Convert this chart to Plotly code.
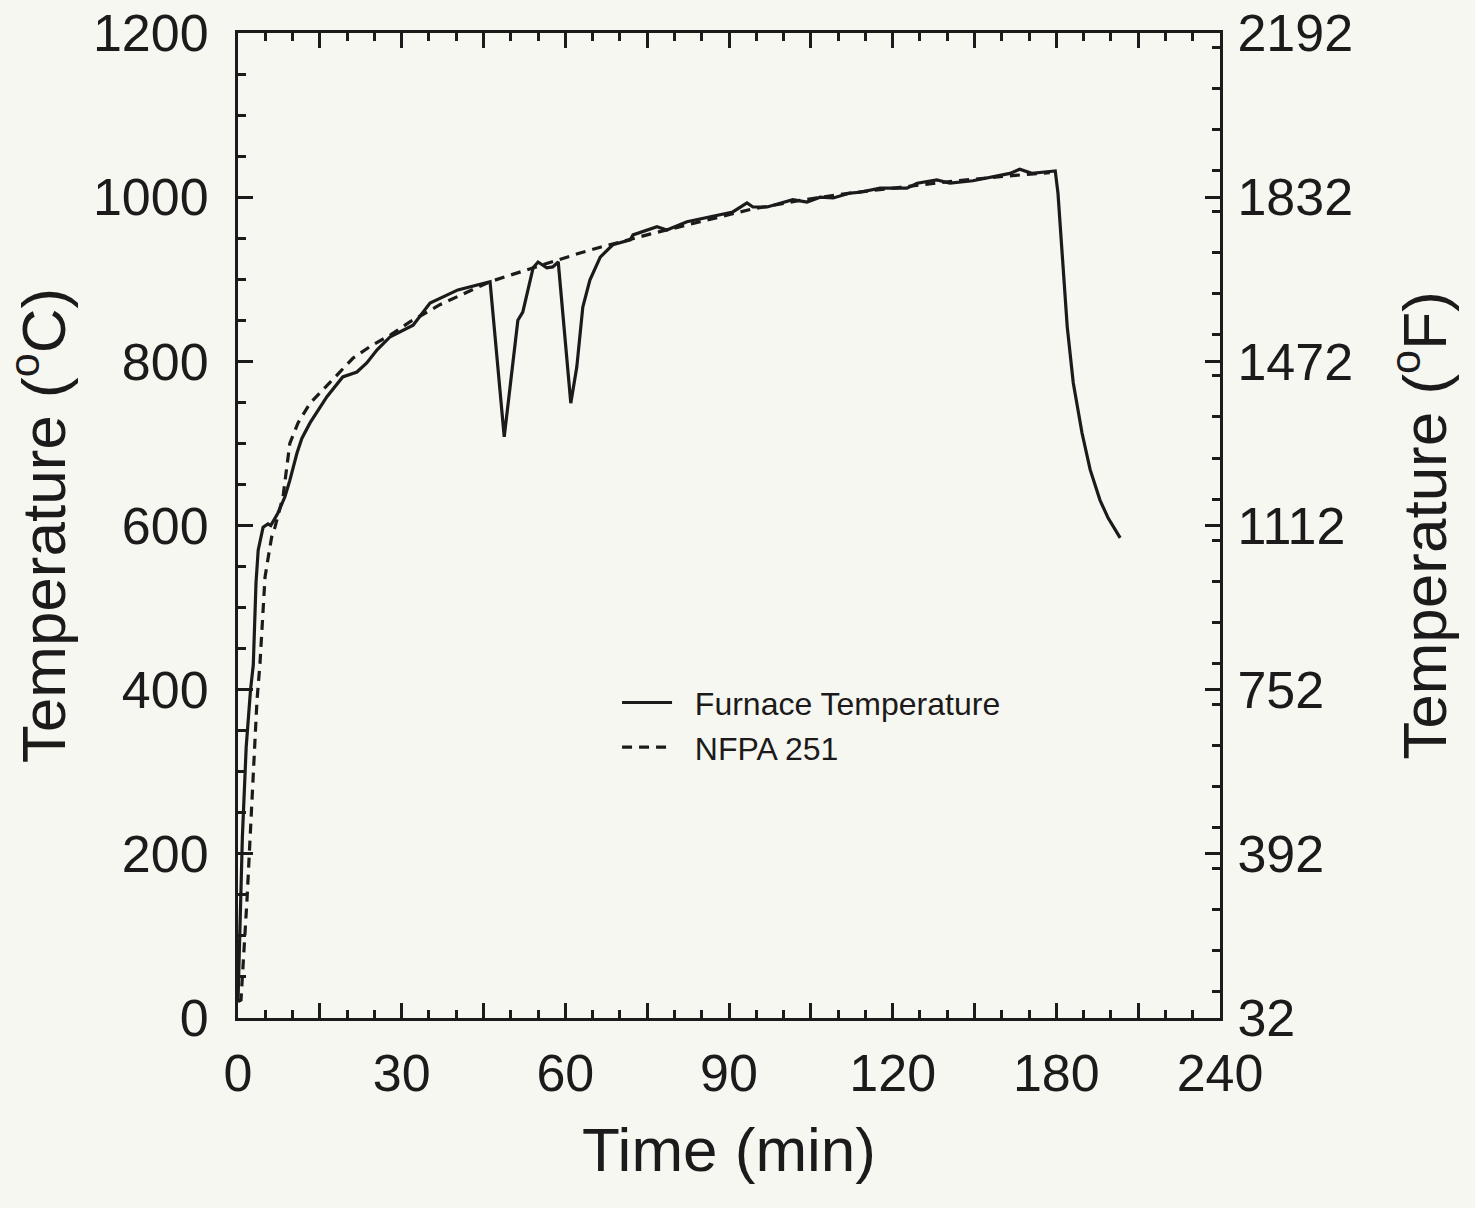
import plotly.graph_objects as go

# ---- data ----
furnace_t = [0, 0.3, 0.8, 1.5, 2.3, 2.8, 3.3, 3.7, 4.6, 5.5, 6.0, 7.3, 8.6, 9.5, 10.8, 11.7,
             13.2, 16.3, 19.2, 21.8, 23.6, 25.5, 27.9, 32.1, 33.4, 35.2, 40.3, 45.8,
             46.2, 48.8, 50.1, 51.3, 52.2, 53.0, 54.1, 55.0, 56.6, 57.7, 58.7,
             61.0, 62.1, 63.2, 64.5, 66.4, 68.7, 71.9, 72.4, 76.8, 78.6, 82.3, 87.8,
             90.7, 93.3, 94.4, 97.0, 101.7, 104.3, 106.7, 109.1, 112.2, 114.0, 117.7,
             122.6, 124.5, 128.1, 130.5, 134.7, 139.7, 141.5, 143.3, 145.5, 148.3, 149.8,
             150.3, 151.0, 152.0, 153.1, 154.7, 156.2, 158.0, 159.5, 161.7]
furnace_T = [20, 100, 220, 330, 400, 430, 530, 570, 598, 602, 600, 615, 635, 655, 688, 706,
             725, 757, 781, 787, 798, 814, 830, 844, 856, 871, 887, 897,
             897, 708, 786, 850, 860, 883, 914, 921, 914, 915, 921,
             749, 793, 866, 899, 927, 942, 948, 954, 964, 960, 970, 978,
             982, 993, 988, 988, 997, 994, 1000, 999, 1005, 1006, 1011,
             1011, 1017, 1021, 1017, 1020, 1026, 1029, 1034, 1029, 1031, 1032,
             1005, 936, 842, 774, 713, 668, 631, 609, 585]

nfpa_t = [0, 0.55, 1.65, 2.57, 3.48, 4.03, 4.34, 4.64, 4.95, 5.56, 6.17, 6.78, 8.25, 9.5,
          11.0, 13.2, 15.0, 18.1, 21.1, 24.2, 27.9, 31.5, 37.0, 46.2, 49.9, 55.4, 62.7,
          66.4, 75.5, 84.7, 93.9, 103.0, 112.2, 121.4, 130.5, 139.7, 148.8]
nfpa_T = [20, 22, 144, 266, 387, 432, 469, 509, 537, 562, 586, 598, 635, 700,
          725, 749, 761, 783, 804, 818, 832, 848, 869, 897, 905, 917, 932,
          939, 955, 970, 985, 996, 1005, 1012, 1019, 1025, 1030]

x_tickvals = [0, 30, 60, 90, 120, 150, 180]
x_ticktext = ["0", "30", "60", "90", "120", "180", "240"]
x_midticks = [15, 45, 75, 105, 135, 165]
yC_tickvals = [0, 200, 400, 600, 800, 1000, 1200]
yF_tickvals = [32, 392, 752, 1112, 1472, 1832, 2192]

INK = "#1c1a1b"
BG = "#f7f7f1"
FONT = "Liberation Sans, Arial, sans-serif"
NB = "\u00a0\u00a0"

fig = go.Figure()
fig.add_trace(go.Scatter(x=furnace_t, y=furnace_T, mode="lines", name=NB + "Furnace Temperature",
                         line=dict(color=INK, width=3.2)))
fig.add_trace(go.Scatter(x=nfpa_t, y=nfpa_T, mode="lines", name=NB + "NFPA 251",
                         line=dict(color=INK, width=3.2, dash="10px,7px")))
# invisible trace to activate the secondary axes
fig.add_trace(go.Scatter(x=[0, 180], y=[32, 2192], mode="lines", xaxis="x2", yaxis="y2",
                         line=dict(width=0), showlegend=False, hoverinfo="skip", opacity=0))

axis_common = dict(showline=True, linecolor=INK, linewidth=3, showgrid=False, zeroline=False,
                   ticks="inside", ticklen=15, tickwidth=3, tickcolor=INK, automargin=False,
                   tickfont=dict(family=FONT, size=52, color=INK))

fig.update_layout(
    width=1475, height=1208,
    margin=dict(l=238, r=255, t=33, b=190),
    paper_bgcolor=BG, plot_bgcolor=BG,
    font=dict(family=FONT, color=INK),
    showlegend=True,
    legend=dict(x=0.386, y=0.348, xanchor="left", yanchor="top",
                bgcolor="rgba(0,0,0,0)", font=dict(family=FONT, size=32, color=INK),
                itemwidth=50, tracegroupgap=0),
    xaxis=dict(range=[0, 180], tickmode="array", tickvals=x_tickvals, ticktext=x_ticktext,
               mirror="allticks", ticklabelstandoff=8,
               minor=dict(dtick=5, ticks="inside", ticklen=8, tickwidth=2.5, tickcolor=INK),
               title=dict(text="Time (min)", font=dict(family=FONT, size=62, color=INK), standoff=27),
               **axis_common),
    xaxis2=dict(range=[0, 180], overlaying="x", anchor="y", side="bottom", matches="x",
                tickmode="array", tickvals=x_midticks, showticklabels=False,
                ticks="inside", ticklen=15, tickwidth=3, tickcolor=INK,
                showline=False, showgrid=False, zeroline=False, mirror="allticks", automargin=False),
    yaxis=dict(range=[0, 1200], tickmode="array", tickvals=yC_tickvals,
               ticklabelstandoff=16,
               minor=dict(dtick=50, ticks="inside", ticklen=8, tickwidth=2.5, tickcolor=INK),
               title=dict(text="Temperature (<sup>o</sup>C)", font=dict(family=FONT, size=62, color=INK), standoff=22),
               **axis_common),
    yaxis2=dict(range=[32, 2192], tickmode="array", tickvals=yF_tickvals, overlaying="y", side="right",
                anchor="x", ticklabelstandoff=4,
                minor=dict(dtick=90, ticks="inside", ticklen=8, tickwidth=2.5, tickcolor=INK),
                title=dict(text="Temperature (<sup>o</sup>F)", font=dict(family=FONT, size=62, color=INK), standoff=51),
                **axis_common),
)

fig.write_html("out.html")
